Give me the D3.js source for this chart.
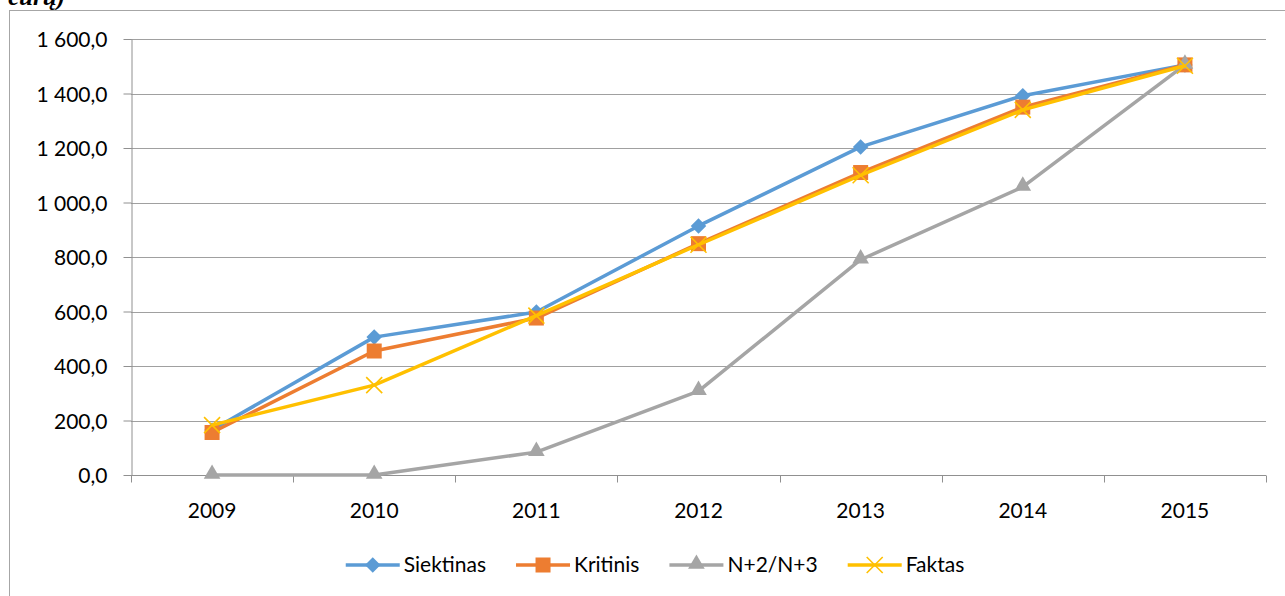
<!DOCTYPE html>
<html>
<head>
<meta charset="utf-8">
<script src="https://cdn.jsdelivr.net/npm/d3@7"></script>
<style>
  body { margin: 0; background: #fff; }
  svg { display: block; font-family: Lato, "Open Sans", sans-serif; }
</style>
</head>
<body>
<div id="chart"></div>
<script>
const years = ['2009', '2010', '2011', '2012', '2013', '2014', '2015']
const siektinas = [165, 506, 598, 914, 1204, 1392, 1505]
const kritinis = [156, 455, 576, 849, 1110, 1350, 1505]
const n2n3 = [0, 0, 84, 308, 790, 1057, 1505]
const faktas = [183, 330, 585, 845, 1100, 1340, 1502]
const yTicks = [0, 200, 400, 600, 800, 1000, 1200, 1400, 1600]

const series = [
  { name: 'Siektinas', values: siektinas, color: '#5B9BD5', marker: 'diamond' },
  { name: 'Kritinis', values: kritinis, color: '#ED7D31', marker: 'square' },
  { name: 'N+2/N+3', values: n2n3, color: '#A5A5A5', marker: 'triangle' },
  { name: 'Faktas', values: faktas, color: '#FFC000', marker: 'cross' }
]

const W = 1285, H = 596
const m = { left: 131, right: 19, top: 39, bottom: 121 }
const FS = 21

const svg = d3.select('#chart').append('svg')
  .attr('width', W)
  .attr('height', H)

// caption of the figure, cut off by the top edge as in the source
svg.append('text')
  .attr('x', 8).attr('y', 5)
  .attr('font-family', '"Liberation Serif", serif')
  .attr('font-style', 'italic')
  .attr('font-weight', 'bold')
  .attr('font-size', 25)
  .text('eurų)')

// chart frame
svg.append('rect')
  .attr('x', 9.5).attr('y', 10.5)
  .attr('width', W + 10).attr('height', H + 10)
  .attr('fill', 'none')
  .attr('stroke', '#a6a6a6')

const x = d3.scaleBand().domain(years).range([m.left, W - m.right])
const y = d3.scaleLinear().domain([0, 1600]).range([H - m.bottom, m.top])

const fmt = v => d3.format(',.1f')(v).replace(/,/g, ' ').replace('.', ',')

// gridlines
svg.append('g').selectAll('line')
  .data(yTicks.slice(1))
  .enter().append('line')
    .attr('x1', m.left).attr('x2', W - m.right)
    .attr('y1', d => Math.round(y(d)) + 0.5)
    .attr('y2', d => Math.round(y(d)) + 0.5)
    .attr('stroke', '#a0a0a0')
    .attr('stroke-width', 1.2)

// y axis
const yAxis = svg.append('g')
  .attr('transform', 'translate(' + (m.left + 0.5) + ',0)')
  .call(d3.axisLeft(y).tickValues(yTicks).tickFormat(fmt).tickSize(8).tickSizeOuter(0))
yAxis.attr('font-family', null).attr('font-size', null)
yAxis.select('.domain').attr('stroke', '#909090')
yAxis.selectAll('.tick line').attr('stroke', '#909090')
yAxis.selectAll('.tick text')
  .attr('font-size', FS)
  .attr('fill', '#000')
  .attr('x', -24)
  .attr('dy', '0.36em')

// x axis: ticks at band boundaries
const xAxisG = svg.append('g')
  .attr('transform', 'translate(0,' + (Math.round(y(0)) + 0.5) + ')')
xAxisG.append('line')
  .attr('x1', m.left).attr('x2', W - m.right)
  .attr('stroke', '#909090').attr('stroke-width', 1.2)
const bounds = years.map(d => x(d)).concat([W - m.right])
xAxisG.selectAll('.xt')
  .data(bounds)
  .enter().append('line')
    .attr('class', 'xt')
    .attr('x1', d => Math.round(d) + 0.5).attr('x2', d => Math.round(d) + 0.5)
    .attr('y1', 0).attr('y2', 7)
    .attr('stroke', '#909090')
xAxisG.selectAll('text')
  .data(years)
  .enter().append('text')
    .attr('x', d => x(d) + x.bandwidth() / 2)
    .attr('y', 42)
    .attr('text-anchor', 'middle')
    .attr('font-size', FS)
    .text(d => d)

const cx = d => x(d) + x.bandwidth() / 2

function marker(g, type, color, px, py) {
  if (type === 'diamond') {
    g.append('rect')
      .attr('x', -5.5).attr('y', -5.5)
      .attr('width', 11).attr('height', 11)
      .attr('transform', 'translate(' + px + ',' + py + ') rotate(45)')
      .attr('fill', color)
  } else if (type === 'square') {
    g.append('rect')
      .attr('x', px - 7.5).attr('y', py - 7.5)
      .attr('width', 15).attr('height', 15)
      .attr('fill', color)
  } else if (type === 'triangle') {
    g.append('path')
      .attr('d', d3.symbol(d3.symbolTriangle, 120)())
      .attr('transform', 'translate(' + px + ',' + (py - 1) + ')')
      .attr('fill', color)
  } else {
    g.append('path')
      .attr('d', 'M-8,-8L8,8M-8,8L8,-8')
      .attr('transform', 'translate(' + px + ',' + py + ')')
      .attr('stroke', color)
      .attr('stroke-width', 1.6)
      .attr('fill', 'none')
  }
}

const line = d3.line()
  .x((d, i) => cx(years[i]))
  .y(d => y(d))

series.forEach(s => {
  const g = svg.append('g')
  g.append('path')
    .datum(s.values)
    .attr('d', line)
    .attr('fill', 'none')
    .attr('stroke', s.color)
    .attr('stroke-width', 3.5)
    .attr('stroke-linejoin', 'round')
  s.values.forEach((v, i) => marker(g, s.marker, s.color, cx(years[i]), y(v)))
})

// legend: items laid out by measured text width, centred under the plot
const legend = svg.append('g').attr('transform', 'translate(0,565)')
const items = series.map(s => {
  const g = legend.append('g')
  g.append('line')
    .attr('x1', 0).attr('x2', 54)
    .attr('stroke', s.color).attr('stroke-width', 3.5)
  marker(g, s.marker, s.color, 27, 0)
  const t = g.append('text')
    .attr('x', 58).attr('y', 7)
    .attr('font-size', FS)
    .text(s.name)
  return { g: g, w: 58 + t.node().getComputedTextLength() }
})
const gap = 30
const total = d3.sum(items, d => d.w) + gap * (items.length - 1)
let lx = 655 - total / 2
items.forEach(it => {
  it.g.attr('transform', 'translate(' + lx + ',0)')
  lx += it.w + gap
})
</script>
</body>
</html>
